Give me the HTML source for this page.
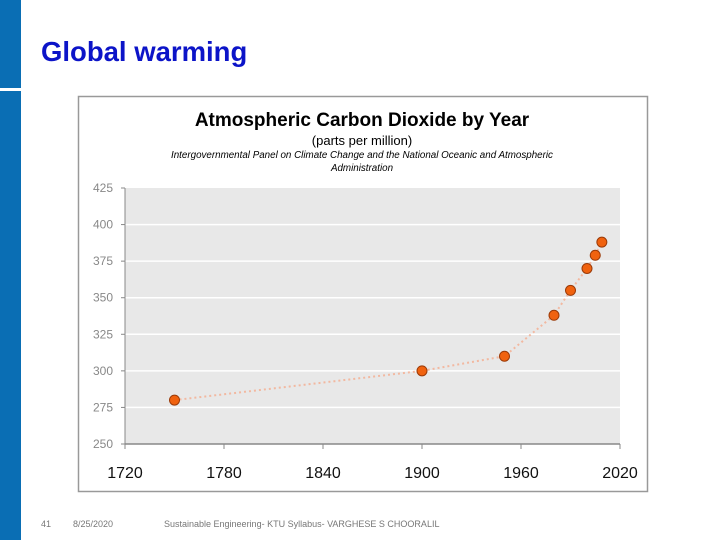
<!DOCTYPE html>
<html><head><meta charset="utf-8"><style>
body{margin:0;width:720px;height:540px;background:#fff;position:relative;overflow:hidden;font-family:"Liberation Sans",sans-serif}
.abs{position:absolute}
</style></head><body>
<div class="abs" style="left:0;top:0;width:21px;height:88px;background:#0a6eb4"></div>
<div class="abs" style="left:0;top:91px;width:21px;height:449px;background:#0a6eb4"></div>
<div class="abs" style="left:41px;top:36px;font-size:27.5px;font-weight:bold;color:#0c14c8">Global warming</div>
<div class="abs" style="left:41px;top:519px;font-size:9px;color:#777">41</div>
<div class="abs" style="left:73px;top:519px;font-size:9px;color:#777">8/25/2020</div>
<div class="abs" style="left:164px;top:519px;font-size:9px;color:#777">Sustainable Engineering- KTU Syllabus- VARGHESE S CHOORALIL</div>
<svg class="abs" style="left:0;top:0" width="720" height="540">
<rect x="78.5" y="96.5" width="569" height="395" fill="#fff" stroke="#999" stroke-width="1.5"/>
<text x="362" y="126" text-anchor="middle" font-size="19" font-weight="bold" font-family="Liberation Sans, sans-serif">Atmospheric Carbon Dioxide by Year</text>
<text x="362" y="145" text-anchor="middle" font-size="13" font-family="Liberation Sans, sans-serif">(parts per million)</text>
<text x="362" y="158" text-anchor="middle" font-size="9.8" font-style="italic" font-family="Liberation Sans, sans-serif">Intergovernmental Panel on Climate Change and the National Oceanic and Atmospheric</text>
<text x="362" y="171" text-anchor="middle" font-size="9.8" font-style="italic" font-family="Liberation Sans, sans-serif">Administration</text>
<rect x="125" y="188" width="495" height="256" fill="#e8e8e8"/>
<g id="g"></g>
</svg>
<script>
const years=[1750,1900,1950,1980,1990,2000,2005,2009];
const co2=[280,300,310,338,355,370,379,388];
const yTicks=[250,275,300,325,350,375,400,425];
const xTicks=[1720,1780,1840,1900,1960,2020];
const X=v=>125+(v-1720)/300*495;
const Y=v=>444-(v-250)/175*256;
const g=document.getElementById('g');
const NS='http://www.w3.org/2000/svg';
function mk(t,a){const e=document.createElementNS(NS,t);for(const k in a)e.setAttribute(k,a[k]);g.appendChild(e);return e;}
yTicks.forEach(v=>{
 if(v>250&&v<425){const l=mk('line',{x1:125,x2:620,y1:Y(v),y2:Y(v),stroke:'#fff','stroke-width':1.5});
 
 }
 const tk=mk('line',{x1:121,x2:125,y1:Y(v),y2:Y(v),stroke:'#888'});
 
 
 const t=mk('text',{x:113,y:Y(v)+4,'text-anchor':'end','font-size':12,fill:'#888','font-family':'Liberation Sans, sans-serif'});
 t.textContent=v;
 
 
});
const ya=mk('line',{x1:125,x2:125,y1:188,y2:448,stroke:'#888'});


const xa=mk('line',{x1:125,x2:620,y1:444,y2:444,stroke:'#888','stroke-width':1.5});


xTicks.forEach(v=>{
 const tk=mk('line',{x1:X(v),x2:X(v),y1:444,y2:449,stroke:'#888'});
 
 
 const t=mk('text',{x:X(v),y:478,'text-anchor':'middle','font-size':16,fill:'#111','font-family':'Liberation Sans, sans-serif'});
 t.textContent=v;
 
 
});
const pl=mk('polyline',{points:years.map((y,i)=>X(y)+','+Y(co2[i])).join(' '),fill:'none',stroke:'#f2b8a0','stroke-width':2,'stroke-dasharray':'2,3'});


years.forEach((y,i)=>{
 const c=mk('circle',{cx:X(y),cy:Y(co2[i]),r:5,fill:'#f0620f',stroke:'#9a3a08','stroke-width':1});
 
 
});
</script>
</body></html>
